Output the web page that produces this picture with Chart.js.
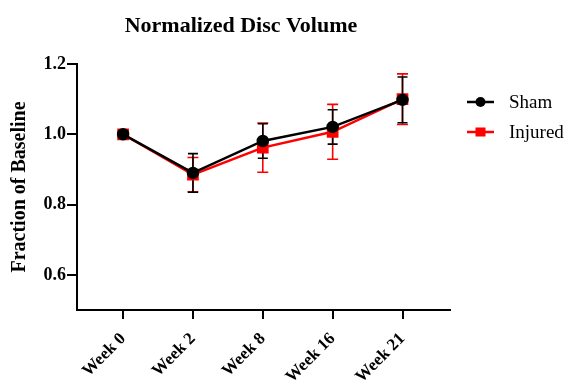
<!DOCTYPE html>
<html>
<head>
<meta charset="utf-8">
<script src="https://cdn.jsdelivr.net/npm/chart.js@4"></script>
<style>
  html, body { margin: 0; padding: 0; background: #fff; }
  #wrap { width: 568px; height: 381px; }
</style>
</head>
<body>
<div id="wrap"><canvas id="discChart"></canvas></div>
<script>
const weeks = ['Week 0', 'Week 2', 'Week 8', 'Week 16', 'Week 21'];
const sham = [1.0, 0.890, 0.981, 1.021, 1.098];
const shamErr = [0, 0.055, 0.049, 0.049, 0.065];
const injured = [1.0, 0.885, 0.962, 1.007, 1.100];
const injuredErr = [0, 0.049, 0.070, 0.078, 0.072];
const yTicks = [0.6, 0.8, 1.0, 1.2];

const serif = "'Liberation Serif', 'Times New Roman', serif";

// error bars with caps, drawn under the lines and markers
const errorBars = {
    id: 'errorBars',
    beforeDatasetsDraw(chart) {
        const ctx = chart.ctx;
        const xs = chart.scales.x, ys = chart.scales.y;
        chart.data.datasets.slice().reverse().forEach(ds => {
            ctx.save();
            ctx.strokeStyle = ds.borderColor;
            ctx.lineWidth = 1.6;
            const cap = ds.capHalf;
            ds.data.forEach((p, i) => {
                const e = ds.errors[i];
                if (!e) return;
                const x = xs.getPixelForValue(p.x);
                const top = ys.getPixelForValue(p.y + e);
                const bot = ys.getPixelForValue(p.y - e);
                ctx.beginPath();
                ctx.moveTo(x, top); ctx.lineTo(x, bot);
                ctx.moveTo(x - cap, top); ctx.lineTo(x + cap, top);
                ctx.moveTo(x - cap, bot); ctx.lineTo(x + cap, bot);
                ctx.stroke();
            });
            ctx.restore();
        });
    },
    afterDraw(chart) {
        const ctx = chart.ctx;
        ctx.save();
        // title
        ctx.fillStyle = '#000';
        ctx.font = 'bold 22px ' + serif;
        ctx.textAlign = 'center';
        ctx.textBaseline = 'middle';
        ctx.fillText('Normalized Disc Volume', 241, 26);

        // legend: line + marker, then the series name
        ctx.font = '19px ' + serif;
        ctx.textAlign = 'left';
        chart.data.datasets.forEach((ds, k) => {
            const y = 102 + k * 30;
            ctx.strokeStyle = ds.borderColor;
            ctx.lineWidth = 2.5;
            ctx.beginPath();
            ctx.moveTo(467, y); ctx.lineTo(494, y);
            ctx.stroke();
            ctx.fillStyle = ds.pointBackgroundColor;
            if (ds.pointStyle === 'rect') {
                ctx.fillRect(475.5, y - 4.5, 10, 9);
            } else {
                ctx.beginPath();
                ctx.arc(480.5, y, 5, 0, Math.PI * 2);
                ctx.fill();
            }
            ctx.fillStyle = '#000';
            ctx.fillText(ds.label, 509, y + 1);
        });
        ctx.restore();
    }
};

const toPoints = arr => arr.map((v, i) => ({ x: i, y: v }));

new Chart(document.getElementById('discChart'), {
    type: 'line',
    data: {
        datasets: [
            {
                label: 'Sham',
                data: toPoints(sham),
                errors: shamErr,
                capHalf: 5,
                borderColor: '#000000',
                backgroundColor: '#000000',
                pointBackgroundColor: '#000000',
                pointBorderColor: '#000000',
                pointStyle: 'circle',
                pointRadius: 5,
                borderWidth: 2.5,
                tension: 0
            },
            {
                label: 'Injured',
                data: toPoints(injured),
                errors: injuredErr,
                capHalf: 5.5,
                borderColor: '#ff0000',
                backgroundColor: '#ff0000',
                pointBackgroundColor: '#ff0000',
                pointBorderColor: '#ff0000',
                pointStyle: 'rect',
                pointRadius: 6.5,
                borderWidth: 2.5,
                tension: 0
            }
        ]
    },
    options: {
        responsive: true,
        maintainAspectRatio: false,
        animation: false,
        layout: { padding: { top: 64, right: 118, left: 0, bottom: 0 } },
        plugins: {
            legend: { display: false },
            title: { display: false },
            tooltip: { enabled: false }
        },
        scales: {
            x: {
                type: 'linear',
                min: -0.66,
                max: 4.68,
                afterFit: s => { s.height = 71; },
                afterBuildTicks: s => { s.ticks = weeks.map((_, i) => ({ value: i })); },
                grid: { drawOnChartArea: false, color: '#000', lineWidth: 2, tickLength: 9 },
                border: { color: '#000', width: 2 },
                ticks: {
                    color: '#000',
                    font: { family: serif, size: 17, weight: 'bold' },
                    minRotation: 45,
                    maxRotation: 45,
                    padding: 10,
                    callback: v => weeks[v]
                }
            },
            y: {
                min: 0.5,
                max: 1.2,
                afterFit: s => { s.width = 77; },
                afterBuildTicks: s => { s.ticks = yTicks.map(v => ({ value: v })); },
                grid: { drawOnChartArea: false, color: '#000', lineWidth: 2, tickLength: 10 },
                border: { color: '#000', width: 2 },
                ticks: {
                    color: '#000',
                    font: { family: serif, size: 18, weight: 'bold' },
                    padding: 1,
                    callback: v => v.toFixed(1)
                },
                title: {
                    display: true,
                    text: 'Fraction of Baseline',
                    color: '#000',
                    font: { family: serif, size: 20, weight: 'bold' },
                    padding: { top: 8, bottom: 0 }
                }
            }
        }
    },
    plugins: [errorBars]
});
</script>
</body>
</html>
